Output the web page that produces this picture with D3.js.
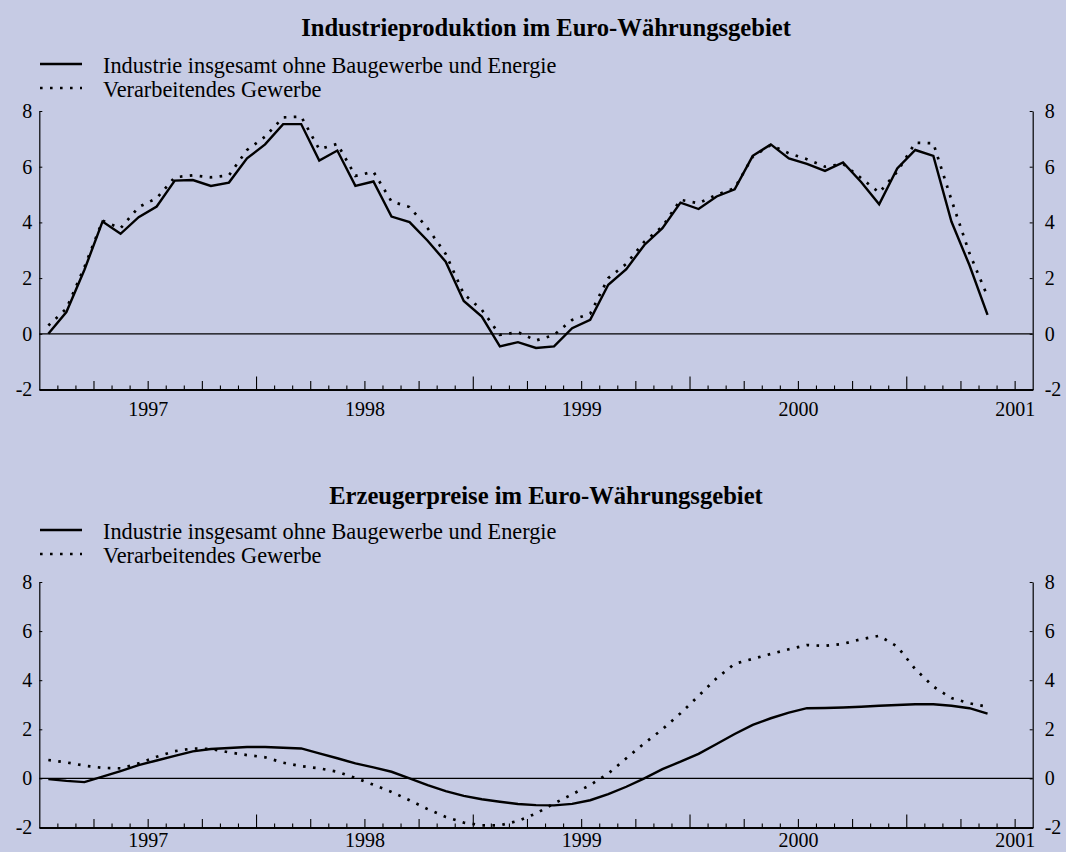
<!DOCTYPE html>
<html>
<head>
<meta charset="utf-8">
<script src="https://cdn.jsdelivr.net/npm/d3@7"></script>
<style>
  html, body { margin: 0; padding: 0; background: #c6cbe4; }
  svg { display: block; }
  text { font-family: "Liberation Serif", "Times New Roman", serif; fill: #000; }
</style>
</head>
<body>
<svg id="chart" width="1066" height="852"></svg>
<script>
// ---- data ----
const months = ["1996-07","1996-08","1996-09","1996-10","1996-11","1996-12",
  "1997-01","1997-02","1997-03","1997-04","1997-05","1997-06","1997-07","1997-08","1997-09","1997-10","1997-11","1997-12",
  "1998-01","1998-02","1998-03","1998-04","1998-05","1998-06","1998-07","1998-08","1998-09","1998-10","1998-11","1998-12",
  "1999-01","1999-02","1999-03","1999-04","1999-05","1999-06","1999-07","1999-08","1999-09","1999-10","1999-11","1999-12",
  "2000-01","2000-02","2000-03","2000-04","2000-05","2000-06","2000-07","2000-08","2000-09","2000-10","2000-11"];

const yearLabels = ["1997","1998","1999","2000","2001"];
const yTicks = [-2, 0, 2, 4, 6, 8];

const seriesNames = ["Industrie insgesamt ohne Baugewerbe und Energie", "Verarbeitendes Gewerbe"];
const titleTop = "Industrieproduktion im Euro-Währungsgebiet";
const titleBottom = "Erzeugerpreise im Euro-Währungsgebiet";

const ipTotal = [0.0, 0.78, 2.3, 4.03, 3.59, 4.19, 4.57, 5.50, 5.52, 5.31, 5.43, 6.30, 6.80, 7.53, 7.53, 6.22, 6.58, 5.31,
  5.47, 4.21, 4.01, 3.34, 2.59, 1.18, 0.62, -0.45, -0.30, -0.51, -0.45, 0.20, 0.50, 1.76, 2.32, 3.19, 3.79, 4.71,
  4.48, 4.93, 5.19, 6.39, 6.80, 6.30, 6.10, 5.85, 6.15, 5.45, 4.65, 5.94, 6.60, 6.39, 4.03, 2.46, 0.68];
const ipManu = [0.3, 0.9, 2.4, 4.06, 3.79, 4.55, 4.87, 5.62, 5.69, 5.62, 5.69, 6.60, 7.08, 7.77, 7.80, 6.63, 6.82, 5.67,
  5.82, 4.75, 4.55, 3.79, 2.87, 1.43, 0.86, -0.04, 0.06, -0.24, -0.04, 0.50, 0.72, 2.00, 2.51, 3.31, 3.85, 4.81,
  4.69, 4.99, 5.23, 6.36, 6.78, 6.48, 6.27, 6.00, 6.10, 5.59, 5.07, 5.82, 6.86, 6.84, 4.81, 2.89, 1.34];
const ppTotal = [-0.03, -0.10, -0.15, 0.07, 0.30, 0.54, 0.73, 0.92, 1.10, 1.20, 1.24, 1.28, 1.28, 1.25, 1.22, 1.02, 0.82, 0.61,
  0.45, 0.27, 0.0, -0.27, -0.52, -0.71, -0.85, -0.95, -1.04, -1.09, -1.10, -1.04, -0.89, -0.64, -0.34, 0.0, 0.38, 0.68,
  1.00, 1.40, 1.81, 2.18, 2.45, 2.68, 2.86, 2.87, 2.89, 2.92, 2.96, 2.99, 3.02, 3.02, 2.96, 2.86, 2.64];
const ppManu = [0.75, 0.65, 0.52, 0.43, 0.41, 0.61, 0.88, 1.11, 1.22, 1.20, 1.06, 0.95, 0.86, 0.64, 0.50, 0.41, 0.27, 0.02,
  -0.26, -0.55, -0.89, -1.25, -1.57, -1.80, -1.91, -1.91, -1.73, -1.43, -1.02, -0.65, -0.27, 0.20, 0.82, 1.43, 2.00, 2.65,
  3.36, 4.08, 4.67, 4.87, 5.07, 5.26, 5.43, 5.40, 5.48, 5.67, 5.81, 5.37, 4.45, 3.74, 3.27, 3.06, 2.92];

// ---- helpers ----
function monthIndex(s) {
  const [y, m] = s.split("-").map(Number);
  return (y - 1997) * 12 + (m - 1);
}
const svg = d3.select("#chart");
const x = d3.scaleLinear().domain([-6, 49]).range([39.3, 1032.7]);
const allMonthTicks = d3.range(-5, 49);
const mod = (a, n) => ((a % n) + n) % n;
const minorTicks = allMonthTicks.filter(m => mod(m, 3) !== 0);
const quarterTicks = allMonthTicks.filter(m => mod(m, 3) === 0 && mod(m, 12) !== 6);
const julyTicks = allMonthTicks.filter(m => mod(m, 12) === 6);

function panel(cfg) {
  const g = svg.append("g");
  const y = d3.scaleLinear().domain([-2, 8]).range([cfg.y0, cfg.y8]);

  // title
  g.append("text").attr("x", 546).attr("y", cfg.titleY)
    .attr("text-anchor", "middle").attr("font-size", 24.6).attr("font-weight", "bold")
    .text(cfg.title);

  // legend
  const leg = [{name: seriesNames[0], dash: null, w: 2.4}, {name: seriesNames[1], dash: "2.6,7.4", w: 2.7}];
  leg.forEach((l, i) => {
    const ly = cfg.legY + i * 24;
    g.append("line").attr("x1", 40).attr("x2", 82).attr("y1", ly).attr("y2", ly)
      .attr("stroke", "#000").attr("stroke-width", l.w)
      .attr("stroke-dasharray", l.dash);
    g.append("text").attr("x", 103).attr("y", ly + 2).attr("dy", "0.32em")
      .attr("font-size", 22.3).text(l.name);
  });

  // zero line
  g.append("line").attr("x1", x.range()[0]).attr("x2", x.range()[1])
    .attr("y1", y(0)).attr("y2", y(0)).attr("stroke", "#000").attr("stroke-width", 1.3);

  // y axes
  const fmt = d => String(d);
  const yl = d3.axisLeft(y).tickValues(yTicks).tickSize(-3).tickSizeOuter(0).tickPadding(7).tickFormat(fmt);
  const yr = d3.axisRight(y).tickValues(yTicks).tickSize(-3).tickSizeOuter(0).tickPadding(12).tickFormat(fmt);
  const gl = g.append("g").attr("transform", `translate(${x.range()[0]},0)`).call(yl);
  const gr = g.append("g").attr("transform", `translate(${x.range()[1]},0)`).call(yr);
  [gl, gr].forEach(a => {
    a.selectAll("text").attr("font-size", 20).attr("font-family", "Liberation Serif, serif");
    a.select(".domain").attr("stroke-width", 1.2);
  });

  // x axis: tick groups of different lengths pointing up
  const xg = g.append("g").attr("transform", `translate(0,${y(-2)})`);
  [[minorTicks, 4], [quarterTicks, 8.5], [julyTicks, 13]].forEach(([vals, len]) => {
    const ax = d3.axisBottom(x).tickValues(vals).tickSize(-len).tickSizeOuter(0).tickFormat("");
    const a = xg.append("g").call(ax);
    a.select(".domain").attr("stroke-width", 1.3);
    a.selectAll(".tick line").attr("stroke-width", 1.1);
  });
  const labAx = d3.axisBottom(x).tickValues(yearLabels.map(s => (Number(s) - 1997) * 12))
    .tickSize(0).tickFormat((d, i) => yearLabels[i]);
  const la = xg.append("g").call(labAx);
  la.select(".domain").remove();
  la.selectAll("text").attr("font-size", 20).attr("font-family", "Liberation Serif, serif")
    .attr("y", cfg.yearBase).attr("dy", null);

  // lines
  const line = d3.line().x((d, i) => x(monthIndex(months[i]) + 0.5)).y(d => y(d));
  g.append("path").datum(cfg.manu).attr("d", line).attr("fill", "none")
    .attr("stroke", "#000").attr("stroke-width", 2.7).attr("stroke-dasharray", "2.6,7.4");
  g.append("path").datum(cfg.total).attr("d", line).attr("fill", "none")
    .attr("stroke", "#000").attr("stroke-width", 2.4).attr("stroke-linejoin", "miter");
}

panel({title: titleTop, titleY: 36, legY: 64, y0: 389.5, y8: 111, yearBase: 26, total: ipTotal, manu: ipManu});
panel({title: titleBottom, titleY: 504, legY: 530, y0: 827.5, y8: 582, yearBase: 19, total: ppTotal, manu: ppManu});
</script>
</body>
</html>
